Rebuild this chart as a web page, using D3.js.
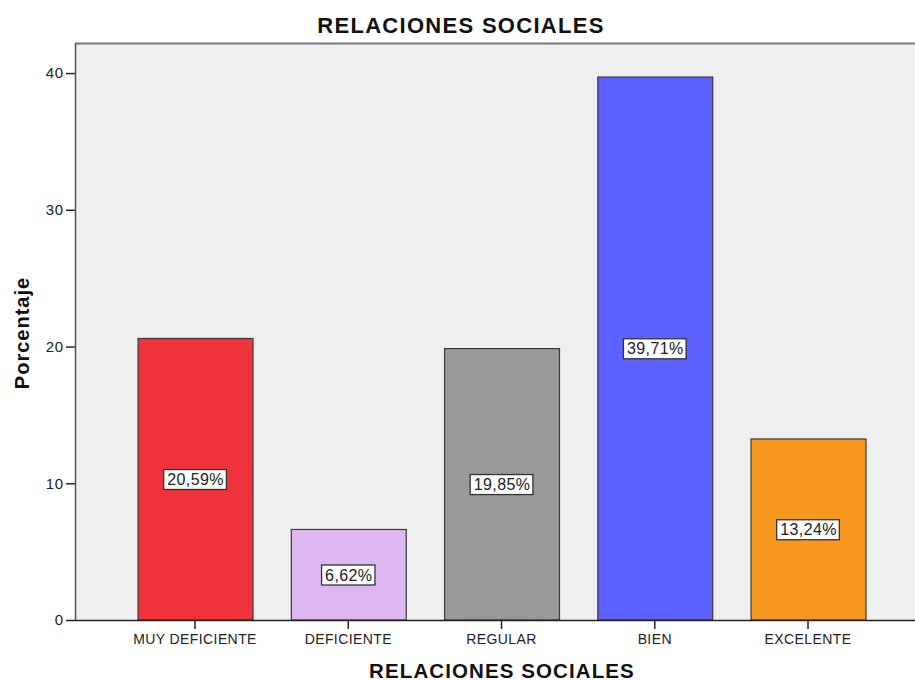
<!DOCTYPE html>
<html>
<head>
<meta charset="utf-8">
<script src="https://cdn.jsdelivr.net/npm/d3@7"></script>
<style>
  html, body { margin: 0; padding: 0; background: #ffffff; }
  svg { display: block; font-family: "Liberation Sans", Arial, sans-serif; }
</style>
</head>
<body>
<svg id="chart" width="915" height="681"></svg>
<script>
// Social relations, percentage per category
const categories = ["MUY DEFICIENTE", "DEFICIENTE", "REGULAR", "BIEN", "EXCELENTE"];
const percentages = [20.59, 6.62, 19.85, 39.71, 13.24];
const valueLabels = ["20,59%", "6,62%", "19,85%", "39,71%", "13,24%"];
const barColors = ["#f0323a", "#ddb8f0", "#999999", "#5b60ff", "#f7991f"];
const yTicks = [0, 10, 20, 30, 40];

const svg = d3.select("#chart");

const plot = { left: 75, right: 915, top: 43, bottom: 620 };

const x = d3.scaleBand()
  .domain(categories)
  .range([118.4, 118.4 + 5 * 153.25])
  .paddingInner(0.25)
  .paddingOuter(0.125);

const y = d3.scaleLinear()
  .domain([0, 42.2])
  .range([plot.bottom, plot.top]);

// plot background
svg.append("rect")
  .attr("x", plot.left).attr("y", plot.top)
  .attr("width", plot.right - plot.left).attr("height", plot.bottom - plot.top)
  .attr("fill", "#efefef");

// top frame line
svg.append("line")
  .attr("x1", plot.left).attr("x2", plot.right)
  .attr("y1", plot.top + 0.5).attr("y2", plot.top + 0.5)
  .attr("stroke", "#7a7a7a").attr("stroke-width", 2);

// bars
svg.append("g").selectAll("rect")
  .data(categories)
  .join("rect")
  .attr("x", d => x(d) + 0.5)
  .attr("y", (d, i) => y(percentages[i]))
  .attr("width", x.bandwidth())
  .attr("height", (d, i) => y(0) - y(percentages[i]))
  .attr("fill", (d, i) => barColors[i])
  .attr("stroke", "#3a3a3a")
  .attr("stroke-width", 1.2);

// y axis
const yAxis = svg.append("g")
  .attr("transform", `translate(${plot.left},0)`)
  .call(d3.axisLeft(y).tickValues(yTicks).tickSize(9).tickPadding(2).tickFormat(d3.format("d")));
yAxis.select(".domain").remove();
yAxis.selectAll(".tick line").attr("stroke", "#222").attr("stroke-width", 1.5);
yAxis.selectAll(".tick text").attr("font-size", 15).attr("fill", "#222")
  .attr("letter-spacing", 0.8)
  .attr("font-family", "Liberation Sans, Arial, sans-serif");
svg.append("line")
  .attr("x1", plot.left + 0.5).attr("x2", plot.left + 0.5)
  .attr("y1", plot.top).attr("y2", plot.bottom)
  .attr("stroke", "#555").attr("stroke-width", 1.5);

// x axis
const xAxis = svg.append("g")
  .attr("transform", `translate(0,${plot.bottom})`)
  .call(d3.axisBottom(x).tickSize(9).tickPadding(0));
xAxis.select(".domain").remove();
xAxis.selectAll(".tick line").attr("stroke", "#222").attr("stroke-width", 1.5);
xAxis.selectAll(".tick text")
  .attr("y", 24).attr("dy", 0)
  .attr("font-size", 14).attr("fill", "#222")
  .attr("letter-spacing", 0.4)
  .attr("font-family", "Liberation Sans, Arial, sans-serif");
svg.append("line")
  .attr("x1", plot.left).attr("x2", plot.right)
  .attr("y1", plot.bottom + 0.5).attr("y2", plot.bottom + 0.5)
  .attr("stroke", "#222").attr("stroke-width", 1.5);

// value labels
const lbl = svg.append("g").selectAll("g")
  .data(categories)
  .join("g")
  .attr("transform", (d, i) => `translate(${x(d) + x.bandwidth() / 2 + 0.5},${y(percentages[i] / 2)})`);
lbl.append("text")
  .attr("text-anchor", "middle")
  .attr("dy", "0.36em")
  .attr("font-size", 16)
  .attr("letter-spacing", 0.4)
  .attr("fill", "#222")
  .text((d, i) => valueLabels[i])
  .each(function() {
    const b = this.getBBox();
    d3.select(this.parentNode).insert("rect", "text")
      .attr("x", b.x - 3.5).attr("y", b.y - 1.5)
      .attr("width", b.width + 6).attr("height", b.height + 3)
      .attr("fill", "#ffffff")
      .attr("stroke", "#333").attr("stroke-width", 1.3);
  });

// titles
svg.append("text")
  .attr("x", 461).attr("y", 33)
  .attr("text-anchor", "middle")
  .attr("font-size", 22).attr("font-weight", "bold").attr("fill", "#111")
  .attr("letter-spacing", 1.3)
  .text("RELACIONES SOCIALES");

svg.append("text")
  .attr("x", 502).attr("y", 678)
  .attr("text-anchor", "middle")
  .attr("font-size", 20.5).attr("font-weight", "bold").attr("fill", "#111")
  .attr("letter-spacing", 1.1)
  .text("RELACIONES SOCIALES");

svg.append("text")
  .attr("transform", "translate(29,333) rotate(-90)")
  .attr("text-anchor", "middle")
  .attr("font-size", 20).attr("font-weight", "bold").attr("fill", "#111")
  .attr("letter-spacing", 1)
  .text("Porcentaje");
</script>
</body>
</html>
